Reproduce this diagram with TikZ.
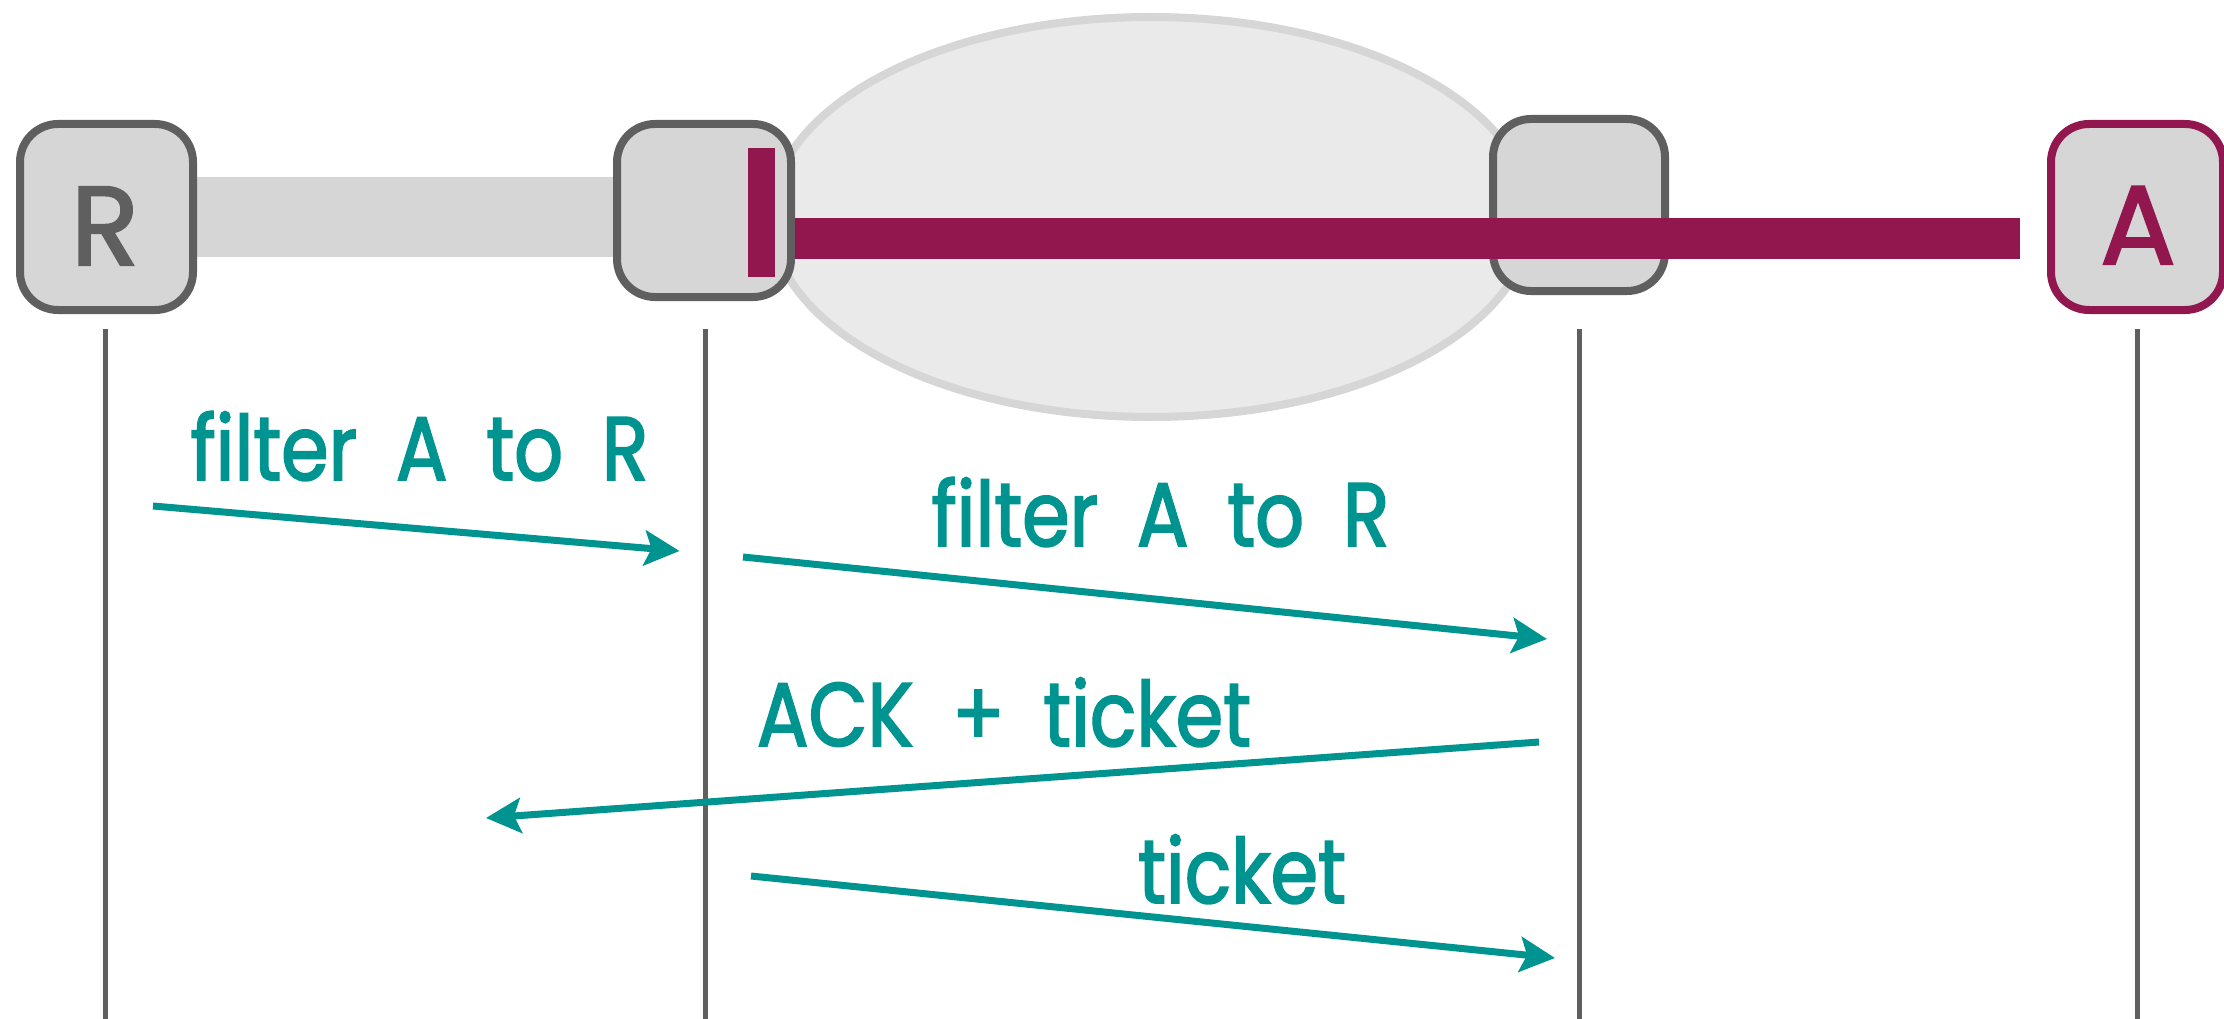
\documentclass[tikz,border=0pt]{standalone}
\usepackage{fontspec}
\newfontfamily\handfont{Poppins}[FakeStretch=0.85,FakeBold=2,WordSpace=1.9,Ligatures=NoCommon]
\newfontfamily\letterfont{Poppins}[FakeBold=2]
\usetikzlibrary{arrows.meta,shapes.geometric}
\definecolor{boxgray}{HTML}{D6D6D6}
\definecolor{boxline}{HTML}{5F5F5F}
\definecolor{lightcloud}{HTML}{EAEAEA}
\definecolor{wine}{HTML}{93174F}
\definecolor{tealmsg}{HTML}{009490}
\begin{document}
\begin{tikzpicture}[x=1pt, y=-1pt,
	endpoint/.style = {draw=boxline, fill=boxgray, line width=8pt, rounded corners=38pt, inner sep=0pt},
	letter/.style = {anchor=base, inner sep=0pt, font=\fontsize{112}{114}\letterfont},
	cloud/.style = {draw=boxgray, fill=lightcloud, line width=8pt, ellipse, inner sep=0pt, minimum width=760pt, minimum height=400pt},
	lifeline/.style = {draw=boxline, line width=5pt},
	msg/.style = {draw=tealmsg, line width=7pt, -{Stealth[length=35pt, width=35pt, inset=7pt]}},
	msglabel/.style = {anchor=base, text=tealmsg, inner sep=0pt, font=\fontsize{90}{94}\handfont}]
	\clip (0,0) rectangle (2224,1019);
	% network cloud
	\node[cloud] (net) at (1151,217) {};
	% grey link, from R to the first router
	\fill[boxgray] (197,177) rectangle (613,257);
	% routers and end hosts
	\node[endpoint, minimum width=173pt, minimum height=186pt] (R) at (106.5,217) {};
	\node[endpoint, minimum width=174pt, minimum height=173pt] (r1) at (704,210.5) {};
	\node[endpoint, minimum width=172pt, minimum height=172pt] (r2) at (1579,205) {};
	\node[endpoint, draw=wine, minimum width=172pt, minimum height=186pt] (A) at (2137,217) {};
	\node[letter, text=boxline] (Rname) at (105,265) {R};
	\node[letter, text=wine] (Aname) at (2138,264) {A};
	% wine coloured flow and filter
	\fill[wine] (795,218) rectangle (2020,259);
	\fill[wine] (748,148) rectangle (775,277);
	% lifelines
	\foreach \name/\xpos in {R/105, r1/705, r2/1579, A/2137} {
		\coordinate (\name top) at (\xpos,329);
		\coordinate (\name bot) at (\xpos,1019);
		\draw[lifeline] (\name top) -- (\name bot);
	}
	% messages
	\coordinate (m1s) at (153,506);
	\coordinate (m1e) at (679.5,551);
	\coordinate (m2s) at (743,557);
	\coordinate (m2e) at (1547,639);
	\coordinate (m3s) at (1539,742);
	\coordinate (m3e) at (486,818);
	\coordinate (m4s) at (751,876);
	\coordinate (m4e) at (1555,958);
	\draw[msg] (m1s) -- (m1e);
	\draw[msg] (m2s) -- (m2e);
	\draw[msg] (m3s) -- (m3e);
	\draw[msg] (m4s) -- (m4e);
	\node[msglabel] (l1) at (419.5,480) {filter A to R};
	\node[msglabel] (l2) at (1160.5,546) {filter A to R};
	\node[msglabel] (l3) at (1004,746) {ACK + ticket};
	\node[msglabel] (l4) at (1242,903) {ticket};
\end{tikzpicture}
\end{document}
